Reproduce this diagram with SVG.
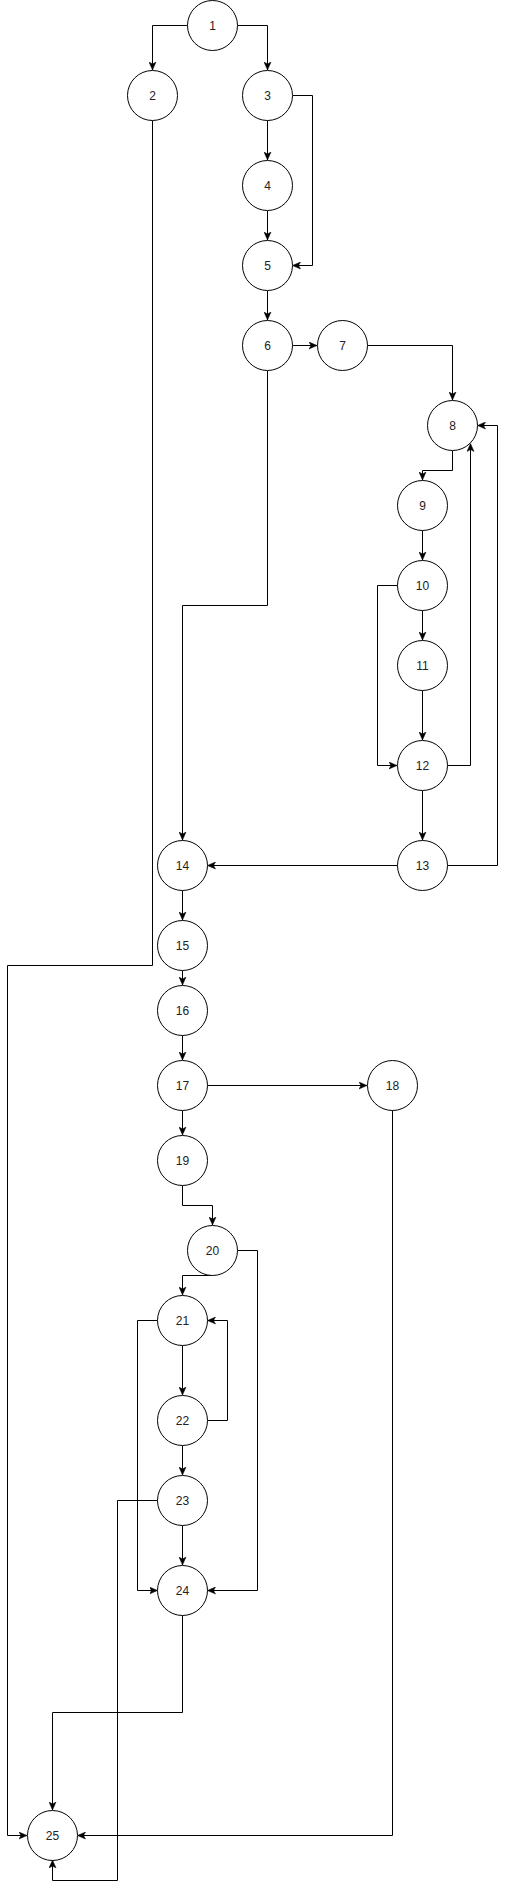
<svg xmlns="http://www.w3.org/2000/svg" width="506" height="1889" viewBox="0 0 506 1889">
<style>
.n circle{fill:#fff;stroke:#000;stroke-width:1}
.n text{font-family:"Liberation Sans",Arial,sans-serif;font-size:12px;fill:#222;text-anchor:middle;dominant-baseline:central}
.e path{fill:none;stroke:#000;stroke-width:1;marker-end:url(#a)}
</style>
<defs>
<marker id="a" viewBox="0 0 8 8" refX="8" refY="4" markerWidth="8" markerHeight="8" markerUnits="userSpaceOnUse" orient="auto">
<path d="M0,0.5 L8,4 L0,7.5 L2,4 z" fill="#000" stroke="#000" stroke-width="0.5"/>
</marker>
</defs>
<rect width="506" height="1889" fill="#fff"/>
<g id="connectors" class="e">
<path d="M187.5,25.5 H152.5 V70"/>
<path d="M237.5,25.5 H267.5 V70"/>
<path d="M267.5,120.5 V160"/>
<path d="M267.5,210.5 V240"/>
<path d="M292.5,95.5 H312.5 V265.5 H292.5"/>
<path d="M267.5,290.5 V320"/>
<path d="M292.5,345.5 H317"/>
<path d="M367.5,345.5 H452.5 V400"/>
<path d="M452.5,450.5 V470.5 H422.5 V480"/>
<path d="M422.5,530.5 V560"/>
<path d="M422.5,610.5 V640"/>
<path d="M422.5,690.5 V740"/>
<path d="M397.5,585.5 H377.5 V765.5 H397"/>
<path d="M447.5,765.5 H470.5 V443.5"/>
<path d="M422.5,790.5 V840"/>
<path d="M447.5,865.5 H497.5 V425.5 H477.5"/>
<path d="M397.5,865.5 H207.5"/>
<path d="M267.5,370.5 V605.5 H182.5 V840"/>
<path d="M182.5,890.5 V920"/>
<path d="M182.5,970.5 V985"/>
<path d="M182.5,1035.5 V1060"/>
<path d="M207.5,1085.5 H367"/>
<path d="M182.5,1110.5 V1135"/>
<path d="M182.5,1185.5 V1205.5 H212.5 V1225"/>
<path d="M212.5,1275.5 H182.5 V1295"/>
<path d="M237.5,1250.5 H257.5 V1590.5 H207.5"/>
<path d="M182.5,1345.5 V1395"/>
<path d="M207.5,1420.5 H227.5 V1320.5 H207.5"/>
<path d="M157.5,1320.5 H137.5 V1590.5 H157.5"/>
<path d="M182.5,1445.5 V1475"/>
<path d="M182.5,1525.5 V1565"/>
<path d="M157.5,1500.5 H117.5 V1880.5 H52.5 V1860"/>
<path d="M182.5,1615.5 V1712.5 H52.5 V1810"/>
<path d="M152.5,120.5 V965.5 H7.5 V1835.5 H27"/>
<path d="M392.5,1110.5 V1835.5 H77.5"/>
</g>
<g id="n1" class="n"><circle cx="212.5" cy="25.5" r="25"/><text x="212.5" y="25.5">1</text></g>
<g id="n2" class="n"><circle cx="152.5" cy="95.5" r="25"/><text x="152.5" y="95.5">2</text></g>
<g id="n3" class="n"><circle cx="267.5" cy="95.5" r="25"/><text x="267.5" y="95.5">3</text></g>
<g id="n4" class="n"><circle cx="267.5" cy="185.5" r="25"/><text x="267.5" y="185.5">4</text></g>
<g id="n5" class="n"><circle cx="267.5" cy="265.5" r="25"/><text x="267.5" y="265.5">5</text></g>
<g id="n6" class="n"><circle cx="267.5" cy="345.5" r="25"/><text x="267.5" y="345.5">6</text></g>
<g id="n7" class="n"><circle cx="342.5" cy="345.5" r="25"/><text x="342.5" y="345.5">7</text></g>
<g id="n8" class="n"><circle cx="452.5" cy="425.5" r="25"/><text x="452.5" y="425.5">8</text></g>
<g id="n9" class="n"><circle cx="422.5" cy="505.5" r="25"/><text x="422.5" y="505.5">9</text></g>
<g id="n10" class="n"><circle cx="422.5" cy="585.5" r="25"/><text x="422.5" y="585.5">10</text></g>
<g id="n11" class="n"><circle cx="422.5" cy="665.5" r="25"/><text x="422.5" y="665.5">11</text></g>
<g id="n12" class="n"><circle cx="422.5" cy="765.5" r="25"/><text x="422.5" y="765.5">12</text></g>
<g id="n13" class="n"><circle cx="422.5" cy="865.5" r="25"/><text x="422.5" y="865.5">13</text></g>
<g id="n14" class="n"><circle cx="182.5" cy="865.5" r="25"/><text x="182.5" y="865.5">14</text></g>
<g id="n15" class="n"><circle cx="182.5" cy="945.5" r="25"/><text x="182.5" y="945.5">15</text></g>
<g id="n16" class="n"><circle cx="182.5" cy="1010.5" r="25"/><text x="182.5" y="1010.5">16</text></g>
<g id="n17" class="n"><circle cx="182.5" cy="1085.5" r="25"/><text x="182.5" y="1085.5">17</text></g>
<g id="n18" class="n"><circle cx="392.5" cy="1085.5" r="25"/><text x="392.5" y="1085.5">18</text></g>
<g id="n19" class="n"><circle cx="182.5" cy="1160.5" r="25"/><text x="182.5" y="1160.5">19</text></g>
<g id="n20" class="n"><circle cx="212.5" cy="1250.5" r="25"/><text x="212.5" y="1250.5">20</text></g>
<g id="n21" class="n"><circle cx="182.5" cy="1320.5" r="25"/><text x="182.5" y="1320.5">21</text></g>
<g id="n22" class="n"><circle cx="182.5" cy="1420.5" r="25"/><text x="182.5" y="1420.5">22</text></g>
<g id="n23" class="n"><circle cx="182.5" cy="1500.5" r="25"/><text x="182.5" y="1500.5">23</text></g>
<g id="n24" class="n"><circle cx="182.5" cy="1590.5" r="25"/><text x="182.5" y="1590.5">24</text></g>
<g id="n25" class="n"><circle cx="52.5" cy="1835.5" r="25"/><text x="52.5" y="1835.5">25</text></g>
</svg>
